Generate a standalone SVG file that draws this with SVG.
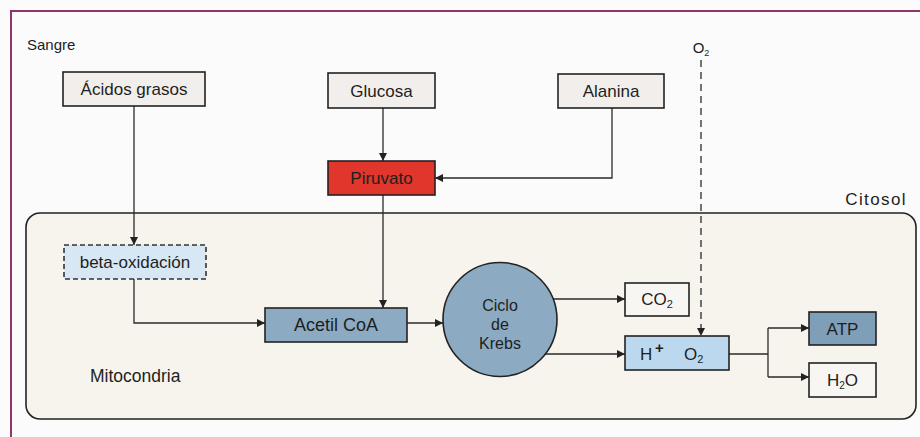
<svg xmlns="http://www.w3.org/2000/svg" width="920" height="437" viewBox="0 0 920 437">
  <style>
    text { font-family: "Liberation Sans", Arial, sans-serif; fill: #1e1e1e; }
    .lbl { font-size: 17px; text-anchor: middle; }
    .box { stroke: #222; stroke-width: 1.6; }
    .con { fill: none; stroke: #2a2a2a; stroke-width: 1.3; }
  </style>
  <defs>
    <marker id="arr" viewBox="0 0 10 10" refX="10" refY="5" markerWidth="9" markerHeight="8" markerUnits="userSpaceOnUse" orient="auto">
      <path d="M0,0 L10,5 L0,10 z" fill="#222"/>
    </marker>
  </defs>
  <rect x="0" y="0" width="920" height="437" fill="#fbfbfb"/>
  <!-- outer frame -->
  <path d="M11,437 V11 H920" fill="none" stroke="#8f3568" stroke-width="2"/>
  <text x="27" y="50" style="font-size:15px">Sangre</text>
  <!-- mitochondria region -->
  <g id="mitocondria">
    <rect x="26" y="213" width="890" height="206" rx="14" fill="#f7f4ee" stroke="#222" stroke-width="1.6"/>
    <text x="90" y="382" style="font-size:17.5px">Mitocondria</text>
  </g>
  <text x="907" y="205" style="font-size:17px;text-anchor:end;letter-spacing:1.4px">Citosol</text>

  <g id="connectors">
    <path class="con" d="M134,106 V245" stroke="#555" stroke-width="1" marker-end="url(#arr)"/>
    <path class="con" d="M383,108 V161" marker-end="url(#arr)"/>
    <path class="con" d="M612,108 V178 H435" marker-end="url(#arr)"/>
    <path class="con" d="M383,195 V308" marker-end="url(#arr)"/>
    <path class="con" d="M134,279 V323 H265" marker-end="url(#arr)"/>
    <path class="con" d="M407,323 H443" marker-end="url(#arr)"/>
    <path class="con" d="M553,299 H625" marker-end="url(#arr)"/>
    <path class="con" d="M545,354 H625" marker-end="url(#arr)"/>
    <path class="con" d="M701,60 V336" stroke-dasharray="7,5" marker-end="url(#arr)"/>
    <path class="con" d="M729,354 H768" stroke-width="2"/>
    <path class="con" d="M768,328 V377"/>
    <path class="con" d="M768,328 H809" marker-end="url(#arr)"/>
    <path class="con" d="M768,377 H809" marker-end="url(#arr)"/>
    <text x="701" y="53" style="font-size:15px;text-anchor:middle">O<tspan style="font-size:9px" dy="3">2</tspan></text>
  </g>

  <g id="acidos-grasos">
    <rect class="box" x="63" y="72" width="142" height="34" fill="#f2eeeb"/>
    <text class="lbl" x="134" y="95">Ácidos grasos</text>
  </g>
  <g id="glucosa">
    <rect class="box" x="328" y="73" width="107" height="35" fill="#f2eeeb"/>
    <text class="lbl" x="381.5" y="96.5">Glucosa</text>
  </g>
  <g id="alanina">
    <rect class="box" x="558" y="74" width="106" height="34" fill="#f2eeeb"/>
    <text class="lbl" x="611" y="97">Alanina</text>
  </g>
  <g id="piruvato">
    <rect class="box" x="328" y="161" width="107" height="34" fill="#e0362c"/>
    <text class="lbl" x="381.5" y="184">Piruvato</text>
  </g>
  <g id="beta-oxidacion">
    <rect x="64" y="245" width="142" height="34" fill="#d7e7f4" stroke="#333" stroke-width="1.6" stroke-dasharray="5,3"/>
    <text class="lbl" x="135" y="268">beta-oxidación</text>
  </g>
  <g id="acetil-coa">
    <rect class="box" x="265" y="308" width="142" height="34" fill="#8cabc2"/>
    <text class="lbl" x="336" y="331" style="font-size:18px">Acetil CoA</text>
  </g>
  <g id="ciclo-krebs">
    <circle cx="500" cy="319.5" r="57" fill="#8cabc2" stroke="#222" stroke-width="1.6"/>
    <text class="lbl" x="500" y="311" style="font-size:16px">Ciclo</text>
    <text class="lbl" x="500" y="330" style="font-size:16px">de</text>
    <text class="lbl" x="500" y="349" style="font-size:16px">Krebs</text>
  </g>
  <g id="co2">
    <rect class="box" x="625" y="283" width="64" height="33" fill="#f8f6f2"/>
    <text class="lbl" x="657" y="305">CO<tspan style="font-size:11px" dy="3">2</tspan></text>
  </g>
  <g id="h-o2">
    <rect class="box" x="625" y="336" width="104" height="34" fill="#bcd8ef"/>
    <text x="640" y="360" style="font-size:17px">H</text>
    <text x="655" y="353" style="font-size:15px;font-weight:bold">+</text>
    <text x="684" y="360" style="font-size:17px">O<tspan style="font-size:11px" dy="3">2</tspan></text>
  </g>
  <g id="atp">
    <rect class="box" x="809" y="312" width="67" height="33" fill="#7f9fb8"/>
    <text class="lbl" x="842.5" y="334.5">ATP</text>
  </g>
  <g id="h2o">
    <rect class="box" x="809" y="363" width="67" height="34" fill="#f8f6f2"/>
    <text class="lbl" x="842.5" y="386">H<tspan style="font-size:10px" dy="3">2</tspan><tspan dy="-3">O</tspan></text>
  </g>
</svg>
